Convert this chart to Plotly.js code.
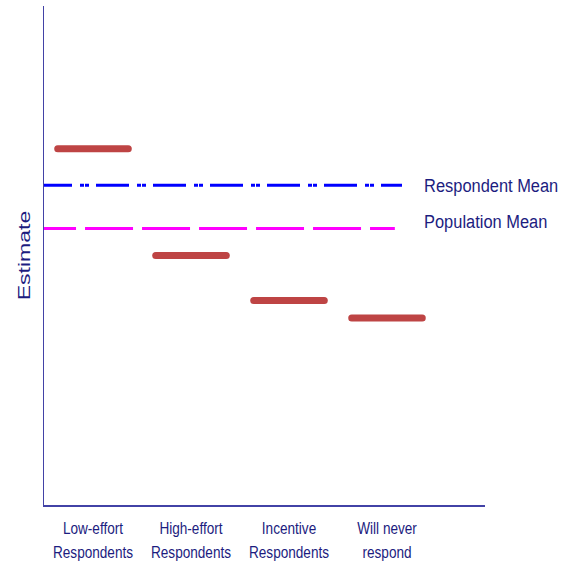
<!DOCTYPE html>
<html>
<head>
<meta charset="utf-8">
<script src="https://cdn.plot.ly/plotly-3.0.1.min.js"></script>
<style>
  html, body { margin: 0; padding: 0; background: #fff; }
  #chart { width: 564px; height: 565px; }
</style>
</head>
<body>
<div id="chart"></div>
<script>
// ---- data ----
var categories = ["Low-effort<br>Respondents", "High-effort<br>Respondents", "Incentive<br>Respondents", "Will never<br>respond"];
var categoryPositions = [1, 2, 3, 4];
var estimates = [71.4, 50.0, 41.0, 37.5];
var respondentMean = 64.1;
var populationMean = 55.4;
var meanLabels = ["Respondent Mean", "Population Mean"];

// ---- styling ----
var navy = "#1c1c80";
var axisColor = "#4242a6";
var barColor = "#be4444";
var halfWidth = 0.36;
var sansFont = "Liberation Sans, Arial, sans-serif";

var barX = [], barY = [];
categoryPositions.forEach(function (p, i) {
  barX.push(p - halfWidth, p + halfWidth, null);
  barY.push(estimates[i], estimates[i], null);
});

var traces = [
  {
    type: "scatter", mode: "lines", x: barX, y: barY,
    line: { color: barColor, width: 7 }, hoverinfo: "skip", showlegend: false
  },
  {
    type: "scatter", mode: "lines",
    x: [0.449, 4.153], y: [respondentMean, respondentMean],
    line: { color: "#0000ff", width: 3, dash: "33px,8px,4px,1px,4px,7px" },
    hoverinfo: "skip", showlegend: false
  },
  {
    type: "scatter", mode: "lines",
    x: [0.337, 4.08], y: [populationMean, populationMean],
    line: { color: "#ff00ff", width: 3, dash: "48px,9px" },
    hoverinfo: "skip", showlegend: false
  }
];

var layout = {
  width: 564, height: 565,
  margin: { l: 44, r: 79, t: 6, b: 60 },
  paper_bgcolor: "#ffffff", plot_bgcolor: "#ffffff",
  showlegend: false,
  xaxis: {
    range: [0.5, 5.0], showgrid: false, zeroline: false,
    showline: true, linecolor: axisColor, linewidth: 1.5,
    tickmode: "array", tickvals: categoryPositions, ticktext: categories,
    ticks: "", ticklabelstandoff: 8,
    tickfont: { family: sansFont, size: 16, color: navy }
  },
  yaxis: {
    range: [0, 100], showgrid: false, zeroline: false,
    showline: true, linecolor: axisColor, linewidth: 1.5,
    showticklabels: false, ticks: "",
    title: { text: "Estimate", standoff: 8,
      font: { family: sansFont, size: 16, color: navy } }
  },
  annotations: [
    { x: 4.36, y: respondentMean, xref: "x", yref: "y", text: meanLabels[0],
      xanchor: "left", yanchor: "middle", showarrow: false,
      font: { family: sansFont, size: 19, color: navy } },
    { x: 4.36, y: 56.9, xref: "x", yref: "y", text: meanLabels[1],
      xanchor: "left", yanchor: "middle", showarrow: false,
      font: { family: sansFont, size: 19, color: navy } }
  ]
};

function squeeze(el, s, mode) {
  var bb = el.getBBox();
  var cx = mode === "left" ? bb.x : bb.x + bb.width / 2;
  var cy = bb.y + bb.height / 2;
  var t = el.getAttribute("transform") || "";
  el.setAttribute("transform", t + " translate(" + cx + "," + cy + ") scale(" + s + ",1) translate(" + (-cx) + "," + (-cy) + ")");
}

Plotly.newPlot("chart", traces, layout, { displayModeBar: false, staticPlot: true }).then(function () {
  var tr = document.querySelectorAll(".scatterlayer .trace");
  if (tr.length) {
    tr[0].querySelectorAll("path.js-line").forEach(function (p) {
      p.style.strokeLinecap = "round";
    });
  }
  // condensed look for the category labels
  document.querySelectorAll(".xtick text").forEach(function (t) {
    var lines = t.querySelectorAll("tspan.line");
    lines.forEach(function (ln, i) {
      if (i > 0) ln.setAttribute("dy", (24 * i) + "px");
    });
    squeeze(t, 0.85, "center");
  });
  document.querySelectorAll(".annotation-text").forEach(function (t) {
    squeeze(t, 0.865, "left");
  });
  var yt = document.querySelector(".ytitle");
  if (yt) squeeze(yt, 1.44, "center");
});
</script>
</body>
</html>
